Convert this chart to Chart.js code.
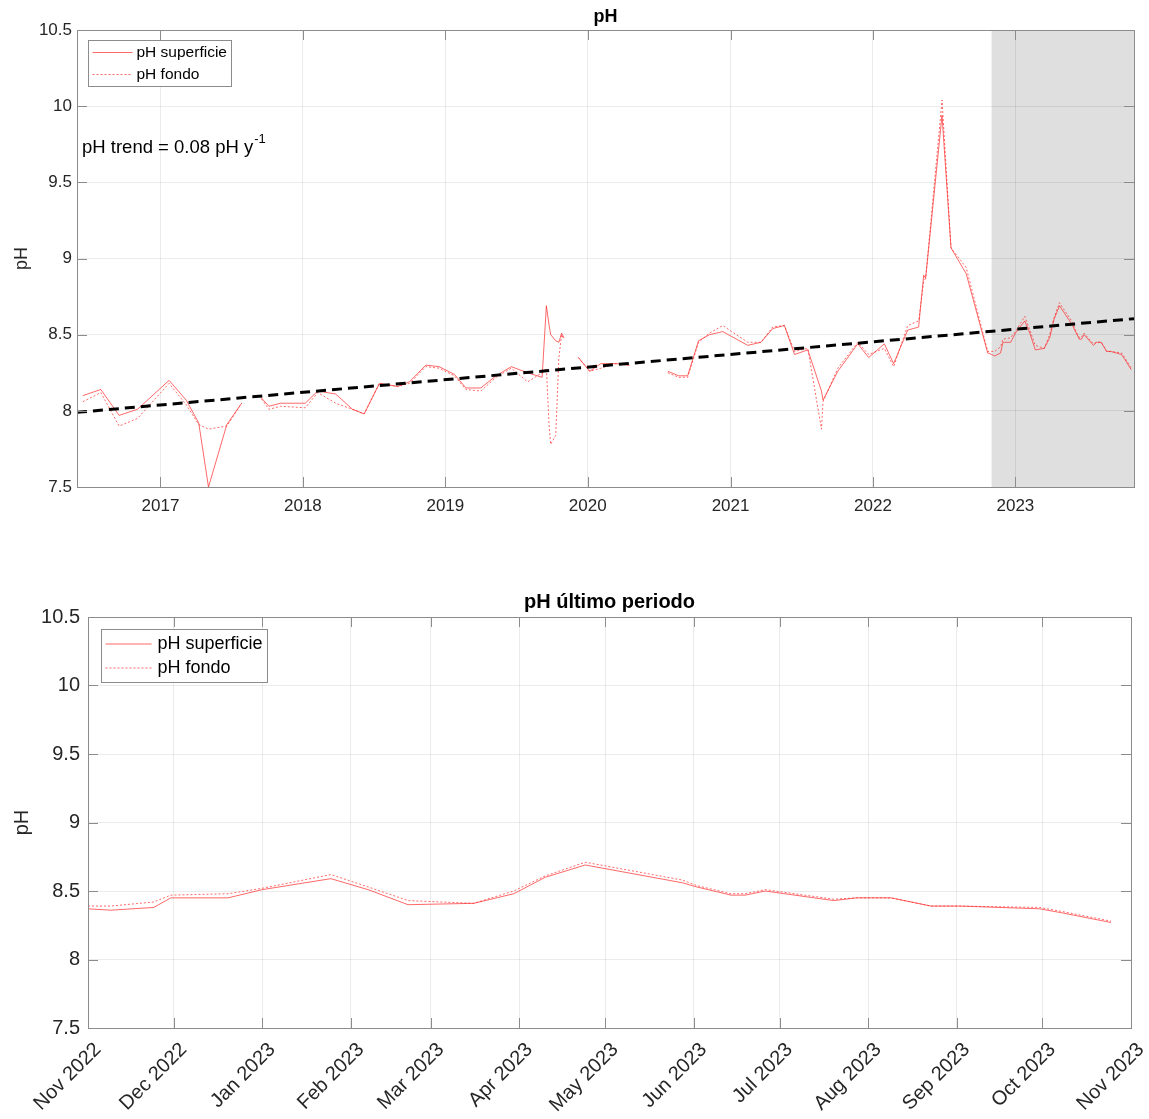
<!DOCTYPE html>
<html>
<head>
<meta charset="utf-8">
<title>pH</title>
<script src="https://cdn.jsdelivr.net/npm/chart.js@4.4.1/dist/chart.umd.min.js"></script>
<style>
    html, body { margin: 0; padding: 0; background: #fff; }
    #page { position: relative; width: 1149px; height: 1119px; }
    .box { position: absolute; left: 0; width: 1149px; }
    #topBox { top: 0; height: 530px; }
    #bottomBox { top: 575px; height: 544px; }
</style>
</head>
<body>
<div id="page">
    <div class="box" id="topBox"><canvas id="phChart"></canvas></div>
    <div class="box" id="bottomBox"><canvas id="phRecentChart"></canvas></div>
</div>
<script>
const seriesNames = ['pH superficie', 'pH fondo'];

// full record up to Oct 2022 (null = no sample, breaks the line)
const histDates = [
    '2016-06-16', '2016-08-01', '2016-09-17', '2016-11-03', '2017-01-23', '2017-03-08', '2017-04-09', '2017-05-04', '2017-06-20', '2017-07-28',
    '2017-08-20',
    '2017-09-11', '2017-10-06', '2017-11-05', '2018-01-07', '2018-02-08', '2018-03-26', '2018-05-08', '2018-06-07', '2018-07-16', '2018-09-01',
    '2018-10-01', '2018-11-12', '2018-12-16', '2019-01-24', '2019-02-23', '2019-04-02', '2019-05-11', '2019-06-19', '2019-07-31', '2019-09-06',
    '2019-09-17', '2019-09-24', '2019-09-28', '2019-10-11', '2019-10-19', '2019-10-26', '2019-11-01',
    '2019-11-20',
    '2019-12-08', '2020-01-06', '2020-02-04', '2020-03-14', '2020-04-17',
    '2020-06-01',
    '2020-07-24', '2020-08-21', '2020-09-13', '2020-10-11', '2020-11-08', '2020-12-12', '2021-02-14', '2021-03-20', '2021-04-19', '2021-05-19',
    '2021-06-14', '2021-07-18', '2021-08-22', '2021-08-26', '2021-10-03', '2021-11-23', '2021-12-21', '2022-01-30', '2022-02-23', '2022-03-31',
    '2022-04-28', '2022-05-11', '2022-05-16', '2022-06-27', '2022-07-20', '2022-08-28', '2022-10-22'
];
const histSurface = [
    8.10, 8.14, 7.97, 8.01, 8.20, 8.07, 7.92, 7.50, 7.91, 8.05,
    null,
    8.10, 8.03, 8.05, 8.05, 8.13, 8.11, 8.01, 7.98, 8.18, 8.16,
    8.19, 8.30, 8.29, 8.24, 8.15, 8.15, 8.23, 8.29, 8.25, 8.22,
    8.69, 8.56, 8.50, 8.46, 8.45, 8.51, 8.48,
    null,
    8.35, 8.26, 8.31, 8.31, 8.30,
    null,
    8.26, 8.23, 8.23, 8.46, 8.50, 8.52, 8.43, 8.45, 8.54, 8.56,
    8.37, 8.40, 8.13, 8.07, 8.26, 8.44, 8.35, 8.44, 8.31, 8.53,
    8.55, 8.89, 8.87, 9.94, 9.07, 8.90, 8.38
];
const histFondo = [
    8.06, 8.12, 7.90, 7.95, 8.18, 8.04, 7.91, 7.88, 7.90, 8.05,
    null,
    8.10, 8.01, 8.03, 8.02, 8.12, 8.05, 8.01, 7.98, 8.18, 8.16,
    8.18, 8.29, 8.28, 8.23, 8.14, 8.13, 8.22, 8.28, 8.19, 8.25,
    8.28, 7.90, 7.78, 7.84, 8.35, 8.50, 8.47,
    null,
    8.35, 8.26, 8.28, 8.31, 8.30,
    null,
    8.25, 8.22, 8.22, 8.45, 8.51, 8.56, 8.45, 8.45, 8.55, 8.56,
    8.39, 8.41, 7.88, 8.06, 8.28, 8.45, 8.37, 8.41, 8.29, 8.56,
    8.59, 8.85, 8.87, 10.04, 9.07, 8.94, 8.39
];

// last period, Nov 2022 - Oct 2023
const recentDates = [
    '2022-11-01', '2022-11-09', '2022-11-24', '2022-11-30', '2022-12-20', '2023-01-01', '2023-01-25', '2023-02-07', '2023-02-21', '2023-03-16',
    '2023-03-30', '2023-04-10', '2023-04-24', '2023-05-28', '2023-06-02', '2023-06-14', '2023-06-19', '2023-06-26', '2023-07-20', '2023-07-28',
    '2023-08-09', '2023-08-23', '2023-09-02', '2023-09-30', '2023-10-08', '2023-10-25'
];
const recentSurface = [
    8.37, 8.36, 8.38, 8.45, 8.45, 8.51, 8.59, 8.51, 8.40, 8.41,
    8.48, 8.60, 8.69, 8.56, 8.53, 8.47, 8.47, 8.50, 8.43, 8.45,
    8.45, 8.39, 8.39, 8.37, 8.34, 8.27
];
const recentFondo = [
    8.39, 8.39, 8.42, 8.47, 8.48, 8.52, 8.62, 8.53, 8.43, 8.41,
    8.50, 8.61, 8.71, 8.58, 8.54, 8.48, 8.48, 8.51, 8.44, 8.45,
    8.45, 8.39, 8.39, 8.38, 8.35, 8.28
];

// linear trend
const trendDates = ['2016-06-01', '2023-11-01'];
const trendValues = [7.99, 8.605];

const fullRange = ['2016-06-01', '2023-11-01'];
const recentRange = ['2022-11-01', '2023-11-01'];
const yearTicks = ['2017-01-01', '2018-01-01', '2019-01-01', '2020-01-01', '2021-01-01', '2022-01-01', '2023-01-01'];
const monthTicks = [
    '2022-11-01', '2022-12-01', '2023-01-01', '2023-02-01', '2023-03-01', '2023-04-01', '2023-05-01',
    '2023-06-01', '2023-07-01', '2023-08-01', '2023-09-01', '2023-10-01', '2023-11-01'
];
const monthNames = ['Jan', 'Feb', 'Mar', 'Apr', 'May', 'Jun', 'Jul', 'Aug', 'Sep', 'Oct', 'Nov', 'Dec'];

const FONT = "'Liberation Sans', Arial, Helvetica, sans-serif";
const RED = 'rgba(255, 40, 40, 0.7)';
const GRID = 'rgba(0, 0, 0, 0.08)';
const FRAME = '#8c8c8c';
const TEXT = '#262626';

const t = s => Date.parse(s);
const toPoints = (dates, values) => dates.map((d, i) => ({ x: t(d), y: values[i] }));

// grey band behind the grid
const shadePlugin = {
    id: 'shade',
    beforeDraw(chart, args, opts) {
        if (!opts.from) return;
        const { ctx, chartArea: a, scales: { x } } = chart;
        const x0 = x.getPixelForValue(t(opts.from));
        const x1 = x.getPixelForValue(t(opts.to));
        ctx.save();
        ctx.fillStyle = opts.color;
        ctx.fillRect(x0, a.top, x1 - x0, a.bottom - a.top);
        ctx.restore();
    }
};

// box around the axes with inward ticks on all four sides
const framePlugin = {
    id: 'frame',
    afterDatasetsDraw(chart, args, opts) {
        const { ctx, chartArea: a, scales: { x, y } } = chart;
        const len = opts.tickLength || 10;
        ctx.save();
        ctx.strokeStyle = FRAME;
        ctx.lineWidth = 1;
        ctx.beginPath();
        x.ticks.forEach(tk => {
            const px = Math.round(x.getPixelForValue(tk.value)) + 0.5;
            ctx.moveTo(px, a.bottom); ctx.lineTo(px, a.bottom - len);
            ctx.moveTo(px, a.top); ctx.lineTo(px, a.top + len);
        });
        y.ticks.forEach(tk => {
            const py = Math.round(y.getPixelForValue(tk.value)) + 0.5;
            ctx.moveTo(a.left, py); ctx.lineTo(a.left + len, py);
            ctx.moveTo(a.right, py); ctx.lineTo(a.right - len, py);
        });
        ctx.stroke();
        ctx.strokeRect(Math.round(a.left) + 0.5, Math.round(a.top) + 0.5,
            Math.round(a.right - a.left), Math.round(a.bottom - a.top));
        ctx.restore();
    }
};

// MATLAB style legend box in the upper left corner
const legendPlugin = {
    id: 'boxLegend',
    afterDraw(chart, args, opts) {
        const { ctx, chartArea: a } = chart;
        const items = chart.data.datasets.filter(d => d.inLegend);
        ctx.save();
        ctx.font = opts.size + 'px ' + FONT;
        const textW = Math.max(...items.map(d => ctx.measureText(d.label).width));
        const w = 4 + opts.lineLen + opts.gap + textW + 5;
        const h = items.length * opts.rowH + 2 * opts.padY;
        const x0 = Math.round(a.left + opts.dx) + 0.5;
        const y0 = Math.round(a.top + opts.dy) + 0.5;
        ctx.fillStyle = '#fff';
        ctx.fillRect(x0, y0, w, h);
        ctx.strokeStyle = FRAME;
        ctx.lineWidth = 1;
        ctx.strokeRect(x0, y0, Math.round(w), Math.round(h));
        items.forEach((d, i) => {
            const cy = y0 + opts.padY + opts.rowH * (i + 0.5);
            ctx.strokeStyle = d.borderColor;
            ctx.setLineDash(d.borderDash || []);
            ctx.beginPath();
            ctx.moveTo(x0 + 4, cy);
            ctx.lineTo(x0 + 4 + opts.lineLen, cy);
            ctx.stroke();
            ctx.setLineDash([]);
            ctx.fillStyle = '#000';
            ctx.textBaseline = 'middle';
            ctx.fillText(d.label, x0 + 4 + opts.lineLen + opts.gap, cy);
        });
        ctx.restore();
    }
};

// "pH trend = ... y^-1" note
const notePlugin = {
    id: 'note',
    afterDatasetsDraw(chart, args, opts) {
        if (!opts.text) return;
        const { ctx, chartArea: a } = chart;
        const x0 = a.left + opts.dx, y0 = a.top + opts.dy;
        ctx.save();
        ctx.fillStyle = '#000';
        ctx.textBaseline = 'middle';
        ctx.font = opts.size + 'px ' + FONT;
        ctx.fillText(opts.text, x0, y0);
        const w = ctx.measureText(opts.text).width;
        ctx.font = Math.round(opts.size * 0.7) + 'px ' + FONT;
        ctx.fillText(opts.sup, x0 + w + 1, y0 - opts.size * 0.45);
        ctx.restore();
    }
};

function lineSets(dates, surface, fondo) {
    return [
        {
            label: seriesNames[0], inLegend: true,
            data: toPoints(dates, surface),
            borderColor: RED, borderWidth: 1, pointRadius: 0, tension: 0
        },
        {
            label: seriesNames[1], inLegend: true,
            data: toPoints(dates, fondo),
            borderColor: RED, borderWidth: 1, borderDash: [2, 2], pointRadius: 0, tension: 0
        }
    ];
}

function yScale(size, titleSize, titlePad, tickPad, width) {
    return {
        min: 7.5, max: 10.5,
        ticks: {
            stepSize: 0.5, color: TEXT, padding: tickPad,
            callback: v => String(Math.round(v * 10) / 10),
            font: { family: FONT, size: size }
        },
        grid: { color: GRID, drawTicks: false },
        border: { display: false },
        title: {
            display: true, text: 'pH', color: TEXT,
            font: { family: FONT, size: titleSize }, padding: { top: titlePad, bottom: 0 }
        },
        afterFit: s => { s.width = width; }
    };
}

// top chart: whole record
new Chart(document.getElementById('phChart'), {
    type: 'line',
    data: {
        datasets: [
            {
                label: 'trend', inLegend: false,
                data: toPoints(trendDates, trendValues),
                borderColor: '#000', borderWidth: 3, borderDash: [10, 6], pointRadius: 0
            },
            ...lineSets(histDates.concat(recentDates), histSurface.concat(recentSurface), histFondo.concat(recentFondo))
        ]
    },
    options: {
        responsive: true,
        maintainAspectRatio: false,
        animation: false,
        layout: { padding: { left: 0, right: 15, top: 0, bottom: 0 }, autoPadding: false },
        plugins: {
            legend: { display: false },
            tooltip: { enabled: false },
            title: {
                display: true, text: 'pH', color: '#000', fullSize: false,
                font: { family: FONT, size: 18, weight: 'bold', lineHeight: 1.2 },
                padding: { top: 6, bottom: 2.4 }
            },
            shade: { from: recentRange[0], to: recentRange[1], color: '#dfdfdf' },
            frame: { tickLength: 10 },
            boxLegend: { size: 15.5, lineLen: 40, gap: 4, rowH: 22, padY: 1, dx: 11, dy: 10 },
            note: { text: 'pH trend = 0.08 pH y', sup: '-1', size: 18.5, dx: 5, dy: 118 }
        },
        scales: {
            x: {
                type: 'linear',
                min: t(fullRange[0]), max: t(fullRange[1]),
                afterBuildTicks: s => { s.ticks = yearTicks.map(d => ({ value: t(d) })); },
                ticks: {
                    callback: v => String(new Date(v).getUTCFullYear()),
                    color: TEXT, padding: 9, maxRotation: 0, autoSkip: false,
                    font: { family: FONT, size: 17 }
                },
                grid: { color: GRID, drawTicks: false },
                border: { display: false },
                afterFit: s => { s.height = 43; }
            },
            y: yScale(17, 18, 11, 5, 77)
        }
    },
    plugins: [shadePlugin, framePlugin, legendPlugin, notePlugin]
});

// bottom chart: last period
new Chart(document.getElementById('phRecentChart'), {
    type: 'line',
    data: { datasets: lineSets(recentDates, recentSurface, recentFondo) },
    options: {
        responsive: true,
        maintainAspectRatio: false,
        animation: false,
        layout: { padding: { left: 0, right: 18, top: 0, bottom: 0 }, autoPadding: false },
        plugins: {
            legend: { display: false },
            tooltip: { enabled: false },
            title: {
                display: true, text: 'pH último periodo', color: '#000', fullSize: false,
                font: { family: FONT, size: 20, weight: 'bold', lineHeight: 1.2 },
                padding: { top: 15, bottom: 3 }
            },
            frame: { tickLength: 10 },
            boxLegend: { size: 18, lineLen: 46, gap: 6, rowH: 24, padY: 2.5, dx: 13, dy: 12 }
        },
        scales: {
            x: {
                type: 'linear',
                min: t(recentRange[0]), max: t(recentRange[1]),
                afterBuildTicks: s => { s.ticks = monthTicks.map(d => ({ value: t(d) })); },
                ticks: {
                    callback: v => {
                        const d = new Date(v);
                        return monthNames[d.getUTCMonth()] + ' ' + d.getUTCFullYear();
                    },
                    color: TEXT, padding: 10, labelOffset: 10, minRotation: 45, maxRotation: 45, autoSkip: false,
                    font: { family: FONT, size: 20 }
                },
                grid: { color: GRID, drawTicks: false },
                border: { display: false },
                // fixed height, and no extra room for the rotated end labels
                afterFit: s => { s.height = 91; s.paddingLeft = 0; s.paddingRight = 0; }
            },
            y: yScale(20, 20, 10, 8, 88)
        }
    },
    plugins: [framePlugin, legendPlugin, notePlugin]
});
</script>
</body>
</html>
